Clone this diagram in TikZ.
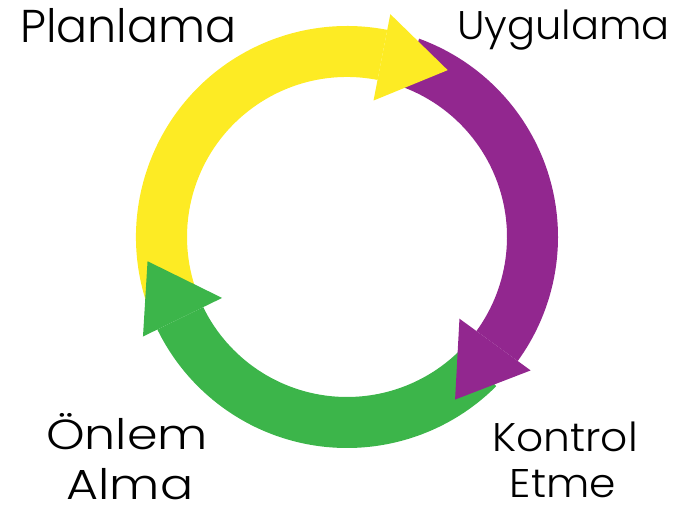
\documentclass[tikz,border=0pt]{standalone}
\usepackage{fontspec}
\setmainfont{Poppins}[UprightFont={* Light}]
\definecolor{cyel}{HTML}{FDEB24}
\definecolor{cpur}{HTML}{92278F}
\definecolor{cgrn}{HTML}{3CB54A}
\begin{document}
\begin{tikzpicture}[x=1pt,y=1pt,
  lbl/.style={inner sep=0pt,align=center}]
\useasboundingbox (0,0) rectangle (676,510);
\coordinate (C) at (347,273);
% shafts
\fill[cyel] ([shift={(203:211)}]C) arc[start angle=203,end angle=79,radius=211]
  -- ([shift={(79:160)}]C) arc[start angle=79,end angle=203,radius=160] -- cycle;
\fill[cpur] ([shift={(70:211)}]C) arc[start angle=70,end angle=-36,radius=211]
  -- ([shift={(-36:160)}]C) arc[start angle=-36,end angle=70,radius=160] -- cycle;
\fill[cgrn] ([shift={(-45:211)}]C) arc[start angle=-45,end angle=-154,radius=211]
  -- ([shift={(-154:160)}]C) arc[start angle=-154,end angle=-45,radius=160] -- cycle;
% heads
\coordinate (yb) at ([shift={(79:183)}]C);
\coordinate (pb) at ([shift={(-36:183)}]C);
\coordinate (gb) at ([shift={(206:183)}]C);
\coordinate (yt) at ([shift={(-11:67)}]yb);
\coordinate (pt) at ([shift={(-126:68)}]pb);
\coordinate (gt) at ([shift={(122:66)}]gb);
\fill[cyel] ([shift={(79:227)}]C) -- (yt) -- ([shift={(79:139)}]C) -- cycle;
\fill[cpur] ([shift={(-36:227)}]C) -- (pt) -- ([shift={(-36:139)}]C) -- cycle;
\fill[cgrn] ([shift={(206:227)}]C) -- (gt) -- ([shift={(206:139)}]C) -- cycle;
% labels
\node[lbl,anchor=base west] (plan) at (20,467) {\fontsize{46}{50}\selectfont Planlama};
\node[lbl,anchor=base east] (uyg) at (670,470) {\fontsize{40}{46}\selectfont\scalebox{1.04}[1]{Uygulama}};
\node[lbl,anchor=base] (onl) at (127,60) {\fontsize{42}{46}\selectfont\scalebox{1.17}[1]{Önlem}};
\node[lbl,anchor=base,text depth=0pt] (alm) at (130,10) {\fontsize{42}{46}\selectfont\scalebox{1.17}[1]{Alma}};
\node[lbl,anchor=base] (kon) at (565,58) {\fontsize{40}{46}\selectfont\scalebox{1.06}[1]{Kontrol}};
\node[lbl,anchor=base,text depth=0pt] (etm) at (563,12) {\fontsize{40}{46}\selectfont\scalebox{1.06}[1]{Etme}};
\end{tikzpicture}
\end{document}
